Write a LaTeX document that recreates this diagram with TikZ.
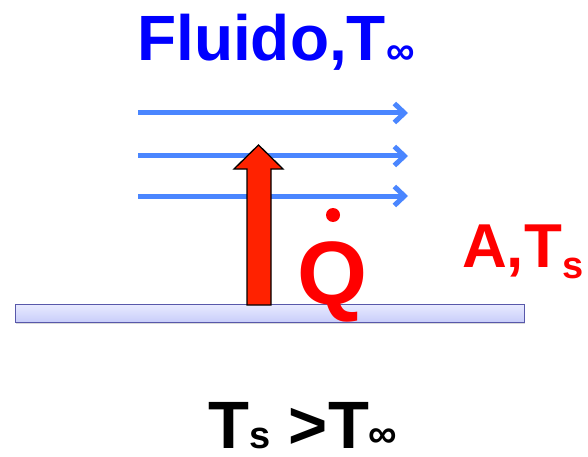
\documentclass[tikz,border=0pt]{standalone}
\usepackage{fontspec}
\setmainfont{Liberation Sans}
\usetikzlibrary{arrows.meta,shadows}

\definecolor{flowblue}{RGB}{74,134,255}
\definecolor{heatred}{RGB}{255,34,0}
\definecolor{platetop}{RGB}{232,234,255}
\definecolor{platebot}{RGB}{200,205,250}
\definecolor{plateedge}{RGB}{88,88,170}

\newcommand{\infsub}[1]{\raisebox{#1}{\fontsize{40}{40}\selectfont ∞}}
\newcommand{\ssub}[1]{\raisebox{#1}{\fontsize{38}{38}\selectfont s}}

\begin{document}
\begin{tikzpicture}[x=1pt,y=-1pt,
    flow/.style={flowblue, line width=5pt, -{Straight Barb[length=10pt,width=19pt]}},
    plate/.style={draw=plateedge, thick, top color=platetop, bottom color=platebot, drop shadow={opacity=0.3,shadow xshift=1pt,shadow yshift=-2pt}, inner sep=0pt},
    heat/.style={draw=black, line width=1.3pt, fill=heatred, line join=miter},
    bigtext/.style={font=\fontsize{#1}{#1}\selectfont\bfseries, inner sep=0pt, anchor=base west},
]
\useasboundingbox (0,0) rectangle (588,457);

% fluid
\node[bigtext=64, text=blue] (fluid) at (137,61) {Fluido,T\infsub{-4pt}};
\foreach \y/\n in {113/a,156/b,196/c}{
  \coordinate (f\n0) at (138,\y);
  \coordinate (f\n1) at (408,\y);
  \draw[flow] (f\n0) -- (f\n1);
}

% plate
\node[plate, minimum width=509pt, minimum height=18pt, anchor=north west] (plate) at (15,304) {};

% heat flux arrow
\coordinate (qbase) at (259,305);
\draw[heat] (qbase) ++(-12,0) -- ++(0,-136) -- ++(-13,0) -- ++(24.5,-24) -- ++(24.5,24) -- ++(-12,0) -- ++(0,136) -- cycle;

\node[bigtext=90, text=red] (q) at (297,304) {Q};
\node[circle, fill=red, inner sep=0pt, minimum size=14pt] (qdot) at (333,215) {};
\node[bigtext=62, text=red] (surf) at (462,267) {A,T\ssub{-11pt}};

\node[bigtext=67] (cond) at (208,448) {T\ssub{0pt} >T\infsub{1pt}};
\end{tikzpicture}
\end{document}
